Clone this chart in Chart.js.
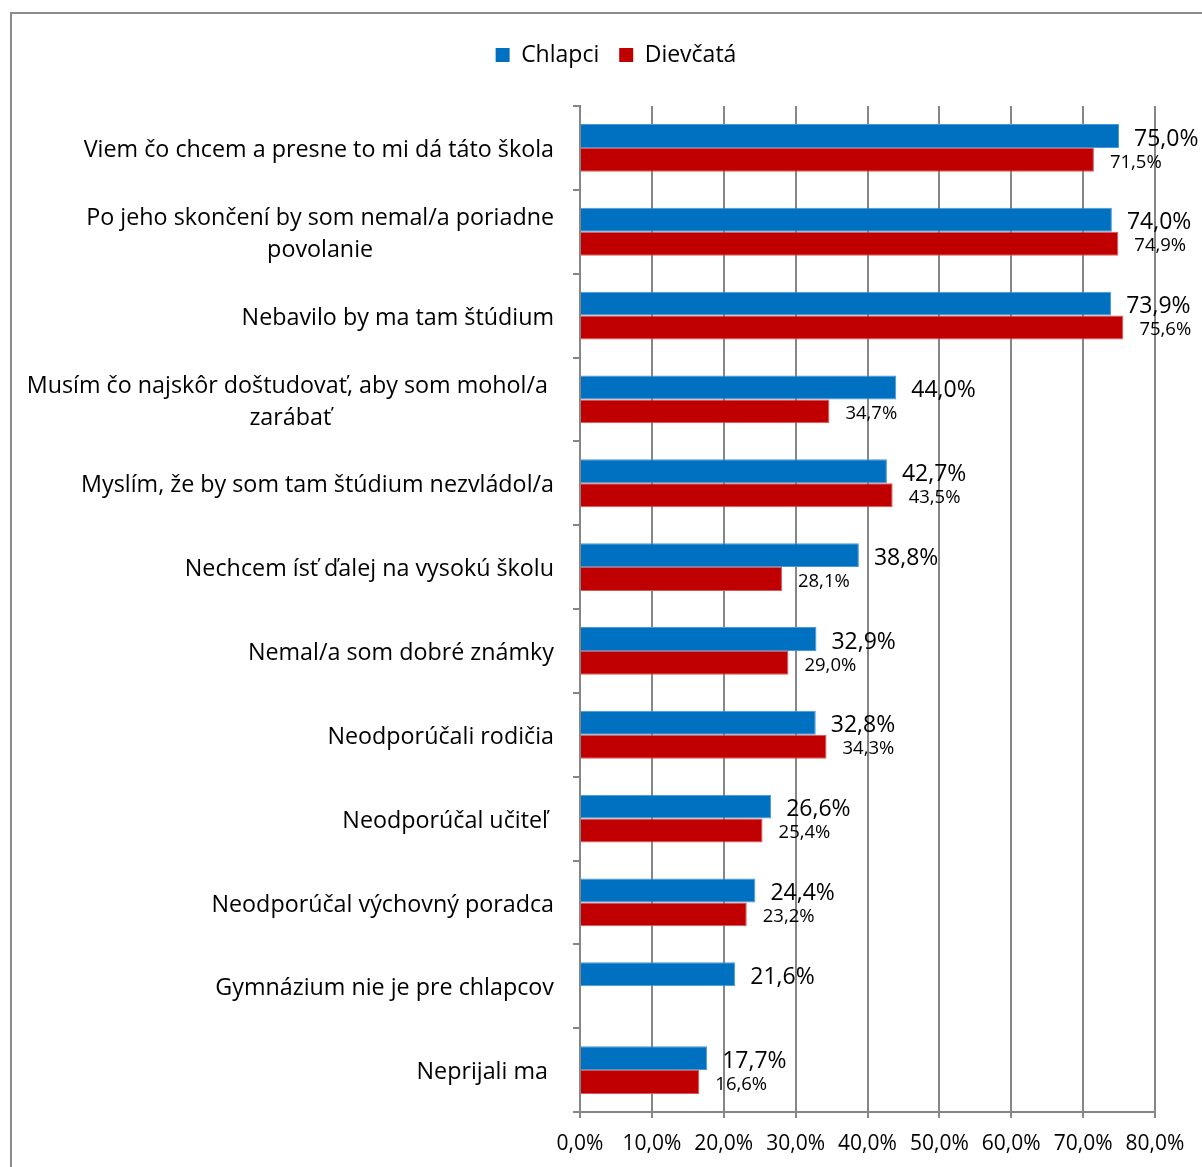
<!DOCTYPE html>
<html><head><meta charset="utf-8">
<script src="https://cdn.jsdelivr.net/npm/chart.js@4/dist/chart.umd.min.js"></script>
<style>
html,body{margin:0;padding:0;background:#fff;overflow:hidden;}
#frame{position:absolute;left:10px;top:12px;width:1300px;height:1300px;border:2px solid #8c8c8c;box-sizing:border-box;}
#wrap{position:absolute;left:0;top:0;width:1202px;height:1167px;}
</style></head><body>
<div id="frame"></div>
<div id="wrap"><canvas id="c" width="1202" height="1167"></canvas></div>
<script>
// ---- data ----
const categories = [
  ['Viem čo chcem a presne to mi dá táto škola'],
  ['Po jeho skončení by som nemal/a poriadne', 'povolanie'],
  ['Nebavilo by ma tam štúdium'],
  ['Musím čo najskôr doštudovať, aby som mohol/a ', 'zarábať'],
  ['Myslím, že by som tam štúdium nezvládol/a'],
  ['Nechcem ísť ďalej na vysokú školu'],
  ['Nemal/a som dobré známky'],
  ['Neodporúčali rodičia'],
  ['Neodporúčal učiteľ '],
  ['Neodporúčal výchovný poradca'],
  ['Gymnázium nie je pre chlapcov'],
  ['Neprijali ma ']
];
const seriesNames = ['Chlapci', 'Dievčatá'];
const chlapci = [75.0, 74.0, 73.9, 44.0, 42.7, 38.8, 32.9, 32.8, 26.6, 24.4, 21.6, 17.7];
const dievcata = [71.5, 74.9, 75.6, 34.7, 43.5, 28.1, 29.0, 34.3, 25.4, 23.2, null, 16.6];
const xMin = 0, xMax = 80, xStep = 10;

// ---- style ----
const FONT = 'Open Sans';
const GRID = '#868686';
const fmt = v => v.toFixed(1).replace('.', ',') + '%';

const catLabelPlugin = {
  id: 'catLabels',
  afterDraw(chart) {
    const y = chart.scales.y, ctx = chart.ctx;
    ctx.save();
    ctx.font = '23.3px "' + FONT + '"';
    ctx.fillStyle = '#000';
    ctx.textBaseline = 'middle';
    ctx.textAlign = 'center';
    const right = chart.chartArea.left - 26;
    const lh = 32;
    categories.forEach((lines, i) => {
      const cy = y.getPixelForValue(i) + 2.5;
      const maxW = Math.max(...lines.map(l => ctx.measureText(l).width));
      const cx = right - maxW / 2;
      const y0 = cy - (lines.length - 1) * lh / 2;
      lines.forEach((l, k) => ctx.fillText(l, cx, y0 + k * lh));
    });
    ctx.restore();
  }
};

const valueLabelPlugin = {
  id: 'valueLabels',
  afterDatasetsDraw(chart) {
    const ctx = chart.ctx;
    ctx.save();
    ctx.fillStyle = '#000';
    ctx.textBaseline = 'middle';
    ctx.textAlign = 'left';
    chart.data.datasets.forEach((ds, di) => {
      const meta = chart.getDatasetMeta(di);
      ctx.font = (di === 0 ? 23 : 18.5) + 'px "' + FONT + '"';
      meta.data.forEach((el, i) => {
        const v = ds.data[i];
        if (v === null || v === undefined) return;
        ctx.fillText(fmt(v), el.x + (di === 0 ? 15 : 16), el.y + (di === 0 ? 3 : 2.5));
      });
    });
    ctx.restore();
  }
};

const legendSpace = {
  id: 'legendSpace',
  beforeInit(chart) {
    const orig = chart.legend.fit;
    chart.legend.fit = function () {
      orig.call(this);
      this.height = 82.5;
    };
  }
};

Chart.defaults.font.family = FONT;
Chart.defaults.color = '#000';

new Chart(document.getElementById('c'), {
  type: 'bar',
  data: {
    labels: categories.map(l => l.join(' ')),
    datasets: [
      { label: seriesNames[0], data: chlapci, backgroundColor: '#0070C0', borderColor: '#4b96d2', borderWidth: 1,
        categoryPercentage: 0.57, barPercentage: 1 },
      { label: seriesNames[1], data: dievcata, backgroundColor: '#C00000', borderColor: '#d65a5a', borderWidth: 1,
        categoryPercentage: 0.57, barPercentage: 1 }
    ]
  },
  options: {
    indexAxis: 'y',
    responsive: false,
    animation: false,
    devicePixelRatio: 1,
    layout: { padding: { top: 23.5, right: 47, bottom: 0, left: 77 } },
    plugins: {
      legend: {
        position: 'top',
        labels: { boxWidth: 14, boxHeight: 14, padding: 20, color: '#000', font: { family: FONT, size: 23 },
          generateLabels(chart) {
            return chart.data.datasets.map((ds, i) => ({
              text: ds.label, fillStyle: ds.backgroundColor, strokeStyle: ds.backgroundColor,
              lineWidth: 0, hidden: false, datasetIndex: i, fontColor: '#000'
            }));
          }
        }
      },
      tooltip: { enabled: false }
    },
    scales: {
      x: {
        min: xMin, max: xMax,
        ticks: { stepSize: xStep, callback: v => fmt(v), color: '#000', padding: 13, font: { family: FONT, size: 21 }, maxRotation: 0 },
        grid: { color: GRID, lineWidth: 2, tickLength: 6 },
        border: { color: GRID, width: 2 },
        afterFit(s) { s.height = 55; }
      },
      y: {
        grid: { offset: true, drawOnChartArea: false, tickLength: 7, color: GRID, lineWidth: 2 },
        border: { color: GRID, width: 2 },
        ticks: { color: 'rgba(0,0,0,0)', font: { family: FONT, size: 23 } },
        afterFit(s) { s.width = 503; }
      }
    }
  },
  plugins: [legendSpace, catLabelPlugin, valueLabelPlugin]
});
</script></body></html>
